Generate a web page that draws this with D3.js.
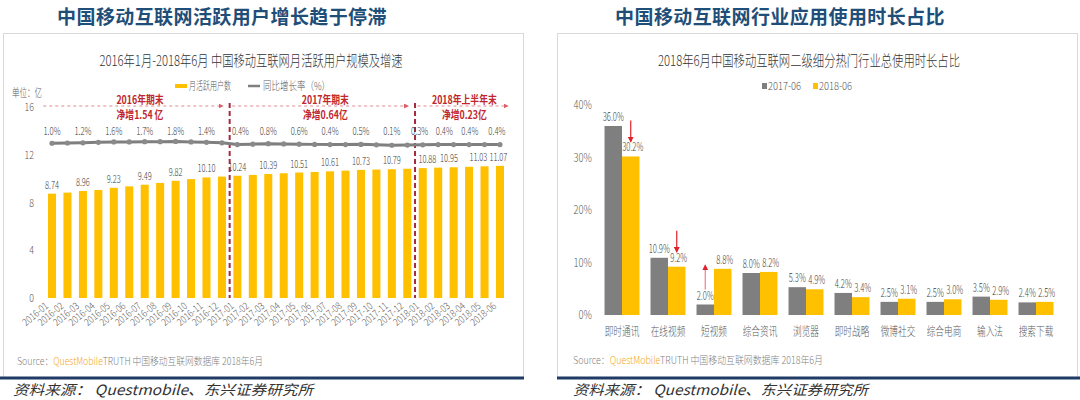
<!DOCTYPE html>
<html><head><meta charset="utf-8">
<script src="https://cdn.jsdelivr.net/npm/d3@7"></script>
<style>
body{margin:0;background:#fff;}
svg text{font-family:"Noto Sans CJK SC","Noto Sans",sans-serif;}
.lt{font-weight:300;}
</style></head><body>
<svg id="c" width="1080" height="400"></svg>
<script>
// ---------- data: left chart ----------
const months = ["2016-01","2016-02","2016-03","2016-04","2016-05","2016-06","2016-07","2016-08","2016-09","2016-10","2016-11","2016-12",
  "2017-01","2017-02","2017-03","2017-04","2017-05","2017-06","2017-07","2017-08","2017-09","2017-10","2017-11","2017-12",
  "2018-01","2018-02","2018-03","2018-04","2018-05","2018-06"];
const mau = [8.74,8.83,8.96,9.05,9.23,9.35,9.49,9.64,9.82,9.96,10.10,10.17,
  10.24,10.31,10.39,10.45,10.51,10.56,10.61,10.67,10.73,10.76,10.79,10.83,
  10.88,10.92,10.95,10.99,11.03,11.07];
const rate = [1.0,1.1,1.2,1.4,1.6,1.6,1.7,1.7,1.8,1.6,1.4,1.2,
  0.4,0.6,0.8,0.7,0.6,0.5,0.4,0.4,0.5,0.3,0.1,0.2,
  0.3,0.4,0.4,0.4,0.4,0.4];
// label anchors (month index in the chart, labels in the 2018 block are spread evenly)
const mauLabelAt  = [0,2,4,6,8,10,12,14,16,18,20,22,24.3,25.7,27.6,28.9];
const rateLabelAt = [0,2,4,6,8,10,12.2,14,16,18,20,22,23.8,25.4,27.05,28.8];
const yTicksL = [0,4,8,12,16];
const periods = [
  {line1:"2016年期末", line2:"净增1.54 亿", start:"2016-01", end:"2016-12"},
  {line1:"2017年期末", line2:"净增0.64亿", start:"2017-01", end:"2017-12"},
  {line1:"2018年上半年末", line2:"净增0.23亿", start:"2018-01", end:"2018-06"}
];
// ---------- data: right chart ----------
const cats = ["即时通讯","在线视频","短视频","综合资讯","浏览器","即时战略","微博社交","综合电商","输入法","搜索下载"];
const seriesNames = ["2017-06","2018-06"];
const v2017 = [36.0,10.9,2.0,8.0,5.3,4.2,2.5,2.5,3.5,2.4];
const v2018 = [30.2,9.2,8.8,8.2,4.9,3.4,3.1,3.0,2.9,2.5];
const yTicksR = [0,10,20,30,40];
const changeArrows = [
  {cat:"即时通讯", s:"2018-06", dir:"down"},
  {cat:"在线视频", s:"2018-06", dir:"down"},
  {cat:"短视频", s:"2017-06", dir:"up"}
];

// ---------- helpers ----------
const svg = d3.select("#c");
function condense(sel, k){
  sel.each(function(){
    const L = this.getComputedTextLength();
    this.setAttribute("textLength", L*k);
    this.setAttribute("lengthAdjust","spacingAndGlyphs");
  });
  return sel;
}
function fitWidth(sel, w){
  sel.attr("textLength", w).attr("lengthAdjust","spacingAndGlyphs");
  return sel;
}
const YEL = "#FFC000", GRY = "#7f7f7f", TXT = "#404040", AX = "#595959", BLUE = "#1f4e79";

const defs = svg.append("defs");
defs.append("marker").attr("id","pinkArrow").attr("viewBox","0 0 10 10").attr("refX",8).attr("refY",5)
  .attr("markerWidth",5).attr("markerHeight",5).attr("orient","auto")
  .append("path").attr("d","M0,0L10,5L0,10z").attr("fill","#d9606a");
defs.append("marker").attr("id","redArrow").attr("viewBox","0 0 10 10").attr("refX",8).attr("refY",5)
  .attr("markerWidth",5).attr("markerHeight",5).attr("orient","auto")
  .append("path").attr("d","M0,0L10,5L0,10z").attr("fill","#e0202a");

// ---------- frames ----------
svg.append("rect").attr("x",3.5).attr("y",33.5).attr("width",520).attr("height",344).attr("fill","none").attr("stroke","#d9d9d9");
svg.append("rect").attr("x",557.5).attr("y",33.5).attr("width",520).attr("height",344).attr("fill","none").attr("stroke","#d9d9d9");
svg.append("line").attr("x1",0).attr("x2",524).attr("y1",378).attr("y2",378).attr("stroke","#1f3b66").attr("stroke-width",3);
svg.append("line").attr("x1",557).attr("x2",1080).attr("y1",378).attr("y2",378).attr("stroke","#1f3b66").attr("stroke-width",3);

// titles
svg.append("text").attr("x",222).attr("y",24).attr("text-anchor","middle").attr("font-size",19).attr("font-weight","bold")
  .attr("fill",BLUE).attr("letter-spacing",0.4).text("中国移动互联网活跃用户增长趋于停滞");
svg.append("text").attr("x",780).attr("y",24).attr("text-anchor","middle").attr("font-size",19).attr("font-weight","bold")
  .attr("fill",BLUE).attr("letter-spacing",0.4).text("中国移动互联网行业应用使用时长占比");

// ================= LEFT CHART =================
const L = svg.append("g");
fitWidth(L.append("text").attr("class","lt").attr("x",251).attr("y",66).attr("text-anchor","middle").attr("font-size",15).attr("fill","#333")
  .text("2016年1月-2018年6月 中国移动互联网月活跃用户规模及增速"), 303);

// legend
L.append("rect").attr("x",175).attr("y",84).attr("width",12).attr("height",4).attr("fill",YEL);
fitWidth(L.append("text").attr("class","lt").attr("x",189).attr("y",90).attr("font-size",11).attr("fill",AX).text("月活跃用户数"),42);
L.append("line").attr("x1",248).attr("x2",260).attr("y1",86).attr("y2",86).attr("stroke",GRY).attr("stroke-width",2.5);
fitWidth(L.append("text").attr("class","lt").attr("x",263).attr("y",90).attr("font-size",11).attr("fill",AX).text("同比增长率（%）"),67);
fitWidth(L.append("text").attr("class","lt").attr("x",12).attr("y",97).attr("font-size",11).attr("fill",AX).text("单位：亿"),30);

const xL = d3.scaleBand().domain(months).range([44.3,507.7]).paddingInner(0.48).paddingOuter(0.24);
const yL = d3.scaleLinear().domain([0,16]).range([298,107]);
const yRate = d3.scaleLinear().domain([0,2]).range([145.5,141]);
const bwL = xL.bandwidth(), stepL = xL.step();
const cx = m => xL(m) + bwL/2;
const xIdx = d3.scaleLinear().domain([0, months.length-1]).range([cx(months[0]), cx(months[months.length-1])]);

// y ticks
condense(L.selectAll(".yl").data(yTicksL).join("text").attr("class","lt").attr("x",34).attr("y",d=>yL(d)+4).attr("text-anchor","end")
  .attr("font-size",11).attr("fill",AX).text(d=>d),0.8);

// bars
L.selectAll(".bar").data(months).join("rect").attr("x",d=>xL(d)).attr("width",bwL)
  .attr("y",(d,i)=>yL(mau[i])).attr("height",(d,i)=>yL(0)-yL(mau[i])).attr("fill",YEL);

// separators
const seps = periods.slice(1).map(p => xL(p.start) - (stepL - bwL)/2);
seps.forEach(x => {
  L.append("line").attr("x1",x).attr("x2",x).attr("y1",yL(16)-4).attr("y2",yL(0))
    .attr("stroke","#a52a3a").attr("stroke-width",2).attr("stroke-dasharray","5,3");
});

// period annotations
periods.forEach((p,i) => {
  const x1 = i===0 ? xL.range()[0] - 1 : seps[i-1] + 2.5;
  const x2 = i===periods.length-1 ? xL.range()[1] : seps[i] - 7;
  const yA = yL(16) - 1;
  L.append("line").attr("x1",x1).attr("x2",x2).attr("y1",yA).attr("y2",yA)
    .attr("stroke","#e08a90").attr("stroke-width",1).attr("stroke-dasharray","3,3").attr("marker-end","url(#pinkArrow)");
  const tc = (cx(p.start)+cx(p.end))/2 + 3;
  const t1 = L.append("text").attr("x",tc).attr("y",104).attr("text-anchor","middle").attr("font-size",11).attr("font-weight","bold")
    .attr("fill","#c0272d").text(p.line1);
  condense(t1,0.8);
  const w = +t1.attr("textLength");
  L.insert("rect", "text").attr("x",tc-w/2-3).attr("y",yA-3).attr("width",w+6).attr("height",6).attr("fill","#fff");
  condense(L.append("text").attr("x",tc).attr("y",119).attr("text-anchor","middle").attr("font-size",11).attr("font-weight","bold")
    .attr("fill","#c0272d").text(p.line2),0.8);
});

// rate line
const line = d3.line().x(d=>cx(d.m)).y(d=>yRate(d.v));
const rateData = months.map((m,i)=>({m, v:rate[i]}));
L.append("path").datum(rateData).attr("d",line).attr("fill","none").attr("stroke",GRY).attr("stroke-width",3);
L.selectAll(".dot").data(rateData).join("circle").attr("cx",d=>cx(d.m)).attr("cy",d=>yRate(d.v)).attr("r",2.6).attr("fill","#8a8a8a");

// rate labels
condense(L.selectAll(".rl").data(rateLabelAt).join("text").attr("class","lt").attr("x",d=>xIdx(d)).attr("y",135).attr("text-anchor","middle")
  .attr("font-size",11).attr("fill",TXT).text(d=>rate[Math.round(d)].toFixed(1)+"%"),0.7);

// value labels
condense(L.selectAll(".vl").data(mauLabelAt).join("text").attr("class","lt").attr("x",d=>xIdx(d)).attr("y",d=>yL(mau[Math.round(d)])-5)
  .attr("text-anchor","middle").attr("font-size",11).attr("fill",TXT).text(d=>mau[Math.round(d)].toFixed(2)),0.68);

// x labels
condense(L.selectAll(".xl").data(months).join("text").attr("class","lt").attr("text-anchor","end").attr("font-size",10).attr("fill",AX)
  .attr("transform",d=>`translate(${cx(d)-3},${yL(0)+9}) rotate(-40)`).text(d=>d),0.85);

// source
const sL = L.append("text").attr("class","lt").attr("x",17).attr("y",365).attr("font-size",10.5).attr("fill","#7f7f7f");
sL.append("tspan").text("Source：");
sL.append("tspan").attr("fill","#f5a623").text("QuestMobile");
sL.append("tspan").text("TRUTH 中国移动互联网数据库 2018年6月");
fitWidth(sL,246);

fitWidth(svg.append("text").attr("x",13).attr("y",395).attr("font-size",14).attr("font-style","italic").attr("fill","#333")
  .text("资料来源： Questmobile、东兴证券研究所"),300);

// ================= RIGHT CHART =================
const R = svg.append("g");
fitWidth(R.append("text").attr("class","lt").attr("x",809).attr("y",66).attr("text-anchor","middle").attr("font-size",15).attr("fill","#333")
  .text("2018年6月中国移动互联网二级细分热门行业总使用时长占比"),302);

// legend
const legR = [{n:seriesNames[0],c:GRY,x:762},{n:seriesNames[1],c:YEL,x:813}];
legR.forEach(l=>{
  R.append("rect").attr("x",l.x).attr("y",83).attr("width",5).attr("height",6).attr("fill",l.c);
  fitWidth(R.append("text").attr("class","lt").attr("x",l.x+6).attr("y",90).attr("font-size",11).attr("fill",AX).text(l.n),33);
});

const x0 = d3.scaleBand().domain(cats).range([599,1059]).paddingInner(0.24).paddingOuter(0.12);
const x1 = d3.scaleBand().domain(seriesNames).range([0,x0.bandwidth()]);
const yR = d3.scaleLinear().domain([0,40]).range([315,105]);
const colorR = d3.scaleOrdinal().domain(seriesNames).range([GRY,YEL]);
const valOf = (c,s) => (s===seriesNames[0] ? v2017 : v2018)[cats.indexOf(c)];

condense(R.selectAll(".yr").data(yTicksR).join("text").attr("class","lt").attr("x",592).attr("y",d=>yR(d)+4).attr("text-anchor","end")
  .attr("font-size",12).attr("fill",AX).text(d=>d+"%"),0.78);

const flat = [];
cats.forEach(c=>seriesNames.forEach(s=>flat.push({c,s,v:valOf(c,s)})));
R.selectAll(".bar").data(flat).join("rect").attr("x",d=>x0(d.c)+x1(d.s)).attr("width",x1.bandwidth())
  .attr("y",d=>yR(d.v)).attr("height",d=>yR(0)-yR(d.v)).attr("fill",d=>colorR(d.s));

condense(R.selectAll(".vr").data(flat).join("text").attr("class","lt").attr("x",d=>x0(d.c)+x1(d.s)+x1.bandwidth()/2+(d.s===seriesNames[1]?2:0))
  .attr("y",d=>yR(d.v)-5).attr("text-anchor","middle").attr("font-size",12).attr("fill",TXT).text(d=>d.v.toFixed(1)+"%"),0.64);

condense(R.selectAll(".cr").data(cats).join("text").attr("class","lt").attr("x",d=>x0(d)+x0.bandwidth()/2).attr("y",336)
  .attr("text-anchor","middle").attr("font-size",12).attr("fill",AX).text(d=>d),0.72);

changeArrows.forEach(a=>{
  const ax = x0(a.cat)+x1(a.s)+x1.bandwidth()/2;
  const top = yR(valOf(a.cat,a.s)) - 15;
  const yA = a.dir==="down" ? [top-21, top] : [top, top-24];
  R.append("line").attr("x1",ax).attr("x2",ax).attr("y1",yA[0]).attr("y2",yA[1])
    .attr("stroke", a.dir==="down" ? "#e0202a" : "#ee7f88").attr("stroke-width",1.2).attr("marker-end","url(#redArrow)");
});

const sR = R.append("text").attr("class","lt").attr("x",573).attr("y",364).attr("font-size",10.5).attr("fill","#7f7f7f");
sR.append("tspan").text("Source：");
sR.append("tspan").attr("fill","#f5a623").text("QuestMobile");
sR.append("tspan").text("TRUTH 中国移动互联网数据库 2018年6月");
fitWidth(sR,250);

fitWidth(svg.append("text").attr("x",573).attr("y",395).attr("font-size",14).attr("font-style","italic").attr("fill","#333")
  .text("资料来源： Questmobile、东兴证券研究所"),295);
</script>
</body></html>
